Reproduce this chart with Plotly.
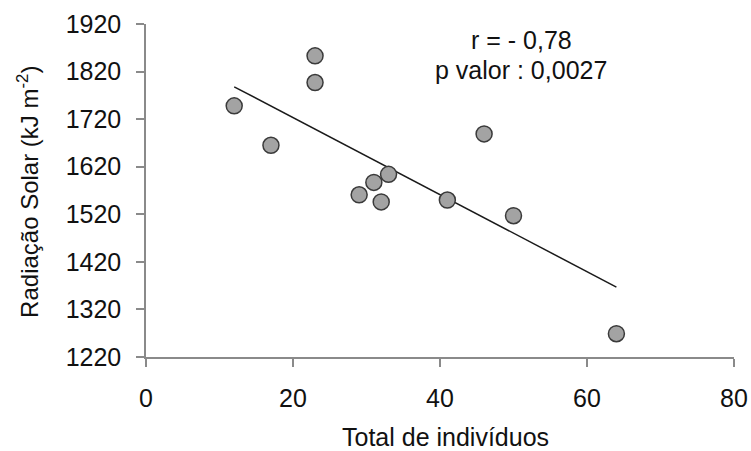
import plotly.graph_objects as go

# Data
total_individuos = [12, 17, 23, 23, 29, 31, 32, 33, 41, 46, 50, 64]
radiacao_solar = [1748, 1665, 1853, 1797, 1561, 1587, 1546, 1604, 1550, 1689, 1517, 1269]

trend_x = [12, 64]
trend_y = [1788, 1367]

x_ticks = [0, 20, 40, 60, 80]
y_ticks = [1220, 1320, 1420, 1520, 1620, 1720, 1820, 1920]

stat_lines = ["r = - 0,78", "p valor : 0,0027"]

FONT = "Arial, Liberation Sans, sans-serif"

fig = go.Figure()
fig.add_trace(go.Scatter(
    x=trend_x, y=trend_y, mode="lines",
    line=dict(color="#1a1a1a", width=1.5),
    showlegend=False, hoverinfo="skip",
))
fig.add_trace(go.Scatter(
    x=total_individuos, y=radiacao_solar, mode="markers",
    marker=dict(size=16, color="#a3a3a3", line=dict(color="#3a3a3a", width=1.5)),
    showlegend=False,
))

for txt, yp in zip(stat_lines, [0.952, 0.862]):
    fig.add_annotation(
        x=0.638, y=yp, xref="paper", yref="paper",
        text=txt, showarrow=False, xanchor="center", yanchor="middle",
        font=dict(family=FONT, size=25, color="#111"),
    )

# y-axis title placed as rotated annotation
fig.add_annotation(
    x=-0.2, y=0.497, xref="paper", yref="paper",
    text="Radiação Solar (kJ m<sup>-2</sup>)", textangle=-90,
    showarrow=False, xanchor="center", yanchor="middle",
    font=dict(family=FONT, size=24, color="#111"),
)

# x-axis title placed as annotation
fig.add_annotation(
    x=0.51, y=-0.24, xref="paper", yref="paper",
    text="Total de indivíduos",
    showarrow=False, xanchor="center", yanchor="middle",
    font=dict(family=FONT, size=25, color="#111"),
)

fig.update_layout(
    width=751, height=451,
    margin=dict(l=146, r=17, t=24, b=94, pad=0, autoexpand=False),
    paper_bgcolor="white", plot_bgcolor="white",
    font=dict(family=FONT, color="#111"),
    xaxis=dict(
        range=[0, 80], tickvals=x_ticks, showgrid=False, zeroline=False,
        showline=True, linecolor="#8a8a8a", linewidth=1.5,
        ticks="outside", ticklen=8, tickcolor="#8a8a8a", tickwidth=1.5,
        tickfont=dict(size=25, family=FONT, color="#111"),
        ticklabelstandoff=10, automargin=False,
    ),
    yaxis=dict(
        range=[1220, 1920], tickvals=y_ticks, showgrid=False, zeroline=False,
        showline=True, linecolor="#8a8a8a", linewidth=1.5,
        ticks="outside", ticklen=8, tickcolor="#8a8a8a", tickwidth=1.5,
        tickfont=dict(size=25, family=FONT, color="#111"),
        ticklabelstandoff=10, automargin=False,
    ),
)

fig.write_html("out.html")
